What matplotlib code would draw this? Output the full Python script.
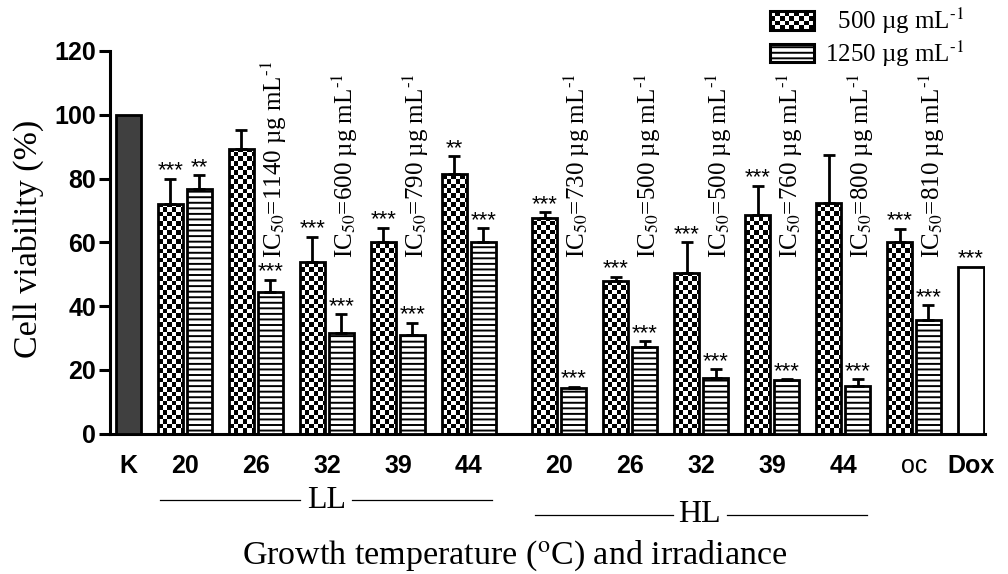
import numpy as np
import matplotlib
matplotlib.use("Agg")
import matplotlib.pyplot as plt
from matplotlib.colors import ListedColormap
from matplotlib.patches import Rectangle, Patch
from matplotlib.legend_handler import HandlerBase

plt.rcParams['font.family'] = ['Liberation Sans', 'DejaVu Sans']
plt.rcParams['mathtext.fontset'] = 'stix'
plt.rcParams['hatch.linewidth'] = 1.4

# data
group_labels = ['20', '26', '32', '39', '44', '20', '26', '32', '39', '44', 'oc']
viab_500 = [72.0, 89.2, 53.8, 60.0, 81.3, 67.5, 47.8, 50.3, 68.5, 72.2, 60.0]
err_500 = [8.0, 6.0, 7.9, 4.6, 5.7, 1.9, 1.4, 9.7, 9.3, 15.2, 4.2]
viab_1250 = [76.6, 44.3, 31.4, 30.9, 60.0, 14.3, 27.2, 17.3, 16.8, 14.9, 35.6]
err_1250 = [4.4, 3.9, 6.1, 3.9, 4.4, 0.4, 1.8, 2.8, 0.3, 2.1, 4.7]
sig_500 = ['***', '', '***', '***', '**', '***', '***', '***', '***', '', '***']
sig_1250 = ['**', '***', '***', '***', '***', '***', '***', '***', '***', '***', '***']
ic50 = ['', '1140', '600', '790', '', '730', '500', '500', '760', '800', '810']
control_k = 100.0
dox = 52.3
dox_sig = '***'

# layout (1 unit = spacing between groups)
group_pos = np.r_[np.arange(5), np.arange(5, 11) + 0.27]
k_pos = -0.59
dox_pos = 11.27
w = 0.352
gap = 0.408
x500 = group_pos + w / 2
x1250 = group_pos + gap + w / 2

W, H = 1008, 574
fig = plt.figure(figsize=(W / 100, H / 100), dpi=100)
ax = fig.add_axes([110 / W, 1 - 433.5 / H, 875 / W, 382.5 / H])
ax.set_xlim(-0.676, 11.65)
ax.set_ylim(0, 120)

unit = ' µg mL$^{\\text{-}1}$'

lw = 2.0
# control and doxorubicin
ax.bar(k_pos + w / 2, control_k, w, color='#404040', edgecolor='black', linewidth=lw, zorder=3)
ax.bar(dox_pos + w / 2, dox, w * 1.04, color='white', edgecolor='black', linewidth=lw, zorder=3)

# 500 bars with checker pattern
base = ax.bar(x500, viab_500, w, color='white', edgecolor='none', zorder=1)
ax.bar(x500, viab_500, w, fill=False, edgecolor='black', linewidth=lw, zorder=3)
p0, p1 = ax.transData.transform([(0, 0), (1, 1)])
cx = 4.6 / (p1[0] - p0[0])
cy = 4.6 / (p1[1] - p0[1])
checker_cmap = ListedColormap(['white', 'black'])
for rect in base.patches:
    x0, h = rect.get_x(), rect.get_height()
    nx = int(np.ceil(w / cx)) + 1
    ny = int(np.ceil(h / cy)) + 1
    arr = np.indices((ny, nx)).sum(axis=0) % 2
    im = ax.imshow(arr, cmap=checker_cmap, interpolation='nearest', origin='lower',
                   extent=(x0, x0 + nx * cx, 0, ny * cy), aspect='auto', zorder=2)
    im.set_clip_path(rect)
ax.set_xlim(-0.676, 11.65)
ax.set_ylim(0, 120)

# 1250 bars with horizontal lines
ax.bar(x1250, viab_1250, w, color='white', edgecolor='black', linewidth=lw,
       hatch='---', zorder=3)

# error bars (upper only)
for xs, vals, errs in [(x500, viab_500, err_500), (x1250, viab_1250, err_1250)]:
    ax.errorbar(xs, vals, yerr=[np.zeros(len(errs)), errs], fmt='none', ecolor='black',
                elinewidth=2, capsize=4.5, capthick=2, zorder=4)

# significance stars
for xs, vals, errs, sigs in [(x500, viab_500, err_500, sig_500),
                             (x1250, viab_1250, err_1250, sig_1250)]:
    for xi, v, e, s in zip(xs, vals, errs, sigs):
        if s:
            ax.annotate(s, (xi, v + e), xytext=(0, -2), textcoords='offset points',
                        ha='center', va='bottom', fontsize=16)
ax.annotate(dox_sig, (dox_pos + w / 2, dox), xytext=(0, -2), textcoords='offset points',
            ha='center', va='bottom', fontsize=16)

# IC50 labels
for xi, ic in zip(x1250, ic50):
    if ic:
        ax.text(xi + 0.05, 55, 'IC$_{50}$=' + ic + unit, rotation=90,
                ha='center', va='bottom', fontsize=18, family='Liberation Serif')

# axes styling
for side in ['top', 'right']:
    ax.spines[side].set_visible(False)
for side in ['left', 'bottom']:
    ax.spines[side].set_linewidth(2.2)
ax.set_yticks(np.arange(0, 121, 20))
ax.tick_params(axis='y', length=8, width=2.2, labelsize=18, pad=2)
ax.set_xticks(list(group_pos + (gap + w) / 2) + [k_pos + w / 2, dox_pos + w / 2])
ax.set_xticklabels(group_labels + ['K', 'Dox'])
ax.tick_params(axis='x', length=0, labelsize=18, pad=15)
for lab in ax.get_yticklabels() + ax.get_xticklabels():
    lab.set_fontweight('bold')
ax.get_xticklabels()[10].set_fontweight('normal')

# LL / HL group brackets
xt = ax.get_xaxis_transform()
for x_a, x_b, y in [(0.03, 2.0, -0.174), (2.73, 4.70, -0.174),
                    (5.31, 7.25, -0.213), (8.01, 9.99, -0.213)]:
    ax.plot([x_a, x_b], [y, y], color='black', lw=0.9, transform=xt, clip_on=False)
ax.text(2.38, -0.174, 'LL', transform=xt, ha='center', va='center', fontsize=23,
        family='Liberation Serif')
ax.text(7.63, -0.213, 'HL', transform=xt, ha='center', va='center', fontsize=23,
        family='Liberation Serif')

fig.text(515 / W, 1 - 556 / H, 'Growth temperature ($^{\\rm o}$C) and irradiance',
         ha='center', va='center', fontsize=24.5, family='Liberation Serif')
fig.text(28 / W, 1 - 239 / H, 'Cell viability (%)', rotation=90, ha='center',
         va='center', fontsize=24.5, family='Liberation Serif')


# legend
class CheckerHandler(HandlerBase):
    def create_artists(self, legend, orig_handle, xdescent, ydescent, width, height,
                       fontsize, trans):
        x0, y0 = -xdescent, -ydescent
        rows = 4
        s = height / rows
        cols = int(round(width / s))
        sx = width / cols
        arts = [Rectangle((x0, y0), width, height, facecolor='white', edgecolor='none',
                          transform=trans)]
        for i in range(cols):
            for j in range(rows):
                if (i + j) % 2 == 0:
                    arts.append(Rectangle((x0 + i * sx, y0 + j * s), sx, s,
                                          facecolor='black', edgecolor='none', transform=trans))
        arts.append(Rectangle((x0, y0), width, height, facecolor='none', edgecolor='black',
                              linewidth=2.2, transform=trans))
        return arts


h500 = Patch(facecolor='white', edgecolor='black')
h1250 = Patch(facecolor='white', edgecolor='black', hatch='---', linewidth=2.2)
fig.legend([h500, h1250], ['  500' + unit, '1250' + unit],
           handler_map={h500: CheckerHandler()},
           loc='upper left', bbox_to_anchor=(770 / W, 1 - 6 / H), frameon=False,
           borderpad=0, borderaxespad=0, handlelength=1.75, handleheight=0.78,
           handletextpad=0.45, labelspacing=0.08,
           prop={'family': 'Liberation Serif', 'size': 18})

fig.savefig('out.png', dpi=100)
